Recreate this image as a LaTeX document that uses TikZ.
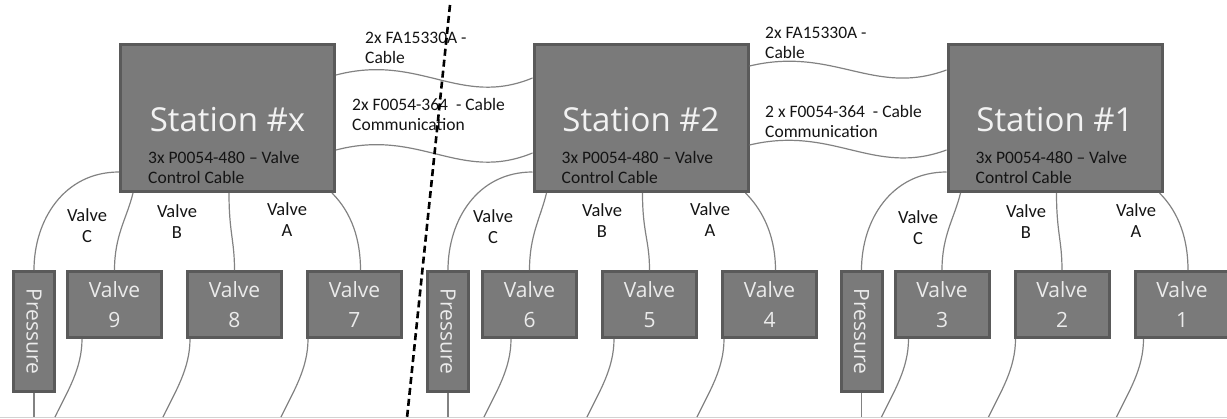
\documentclass[tikz,border=0pt]{standalone}
\usepackage{fontspec}
\setmainfont{Open Sans}
\newfontfamily\cablefont{Carlito}
\usetikzlibrary{positioning,calc}
\definecolor{boxgray}{HTML}{7A7A7A}
\definecolor{boxedge}{HTML}{5A5A5A}
\definecolor{wiregray}{HTML}{828282}
\definecolor{floorgray}{HTML}{D2D2D2}
\tikzset{
  station/.style={draw=boxedge,fill=boxgray,line width=3pt,minimum width=214pt,minimum height=147pt,inner sep=0pt},
  stationtitle/.style={text=white!95!black,inner sep=0pt,font=\fontsize{33}{36}\selectfont},
  valvebox/.style={draw=boxedge,fill=boxgray,line width=3pt,minimum width=94pt,minimum height=66pt,inner sep=0pt,align=center,text=white!92!black,font=\fontsize{21}{30}\selectfont},
  pressbox/.style={draw=boxedge,fill=boxgray,line width=3pt,minimum width=41pt,minimum height=120pt,inner sep=0pt,text=white!92!black,font=\fontsize{21}{24}\selectfont},
  lbl/.style={align=left,inner sep=0pt,text=black!92,font=\cablefont\fontsize{17.5}{20}\selectfont},
  vlbl/.style={align=center,inner sep=0pt,text=black!92,font=\cablefont\fontsize{18.5}{21}\selectfont},
  cable/.style={draw=wiregray,line width=1.2pt},
  cut/.style={draw=black,line width=2.6pt,dash pattern=on 7pt off 4pt},
}

\begin{document}
\begin{tikzpicture}[x=1pt,y=-1pt]
\useasboundingbox (0,0) rectangle (1227,418);

% floor line
\coordinate (base) at (0,417);
\coordinate (baseR) at (1227,417);
\draw[floorgray,line width=1pt] (base) -- (baseR);

% stations
\node[station] (sx) at (227.5,118) {};
\node[station] (s2) at (641,118) {};
\node[station] (s1) at (1055,118) {};
\foreach \s/\t in {sx/x, s2/2, s1/1}{
  \node[stationtitle] (\s title) at ([yshift=-1.5pt]\s.center) {Station \#\t};
  \node[lbl, anchor=west] (\s sub) at ([xshift=29pt,yshift=-49pt]\s.west) {3x P0054-480 – Valve\\Control Cable};
}

% pressure sensors and valves
\node[pressbox] (px) at (34,331.5) {\rotatebox{-90}{Pressure}};
\node[pressbox] (p2) at (448,331.5) {\rotatebox{-90}{Pressure}};
\node[pressbox] (p1) at (861.5,331.5) {\rotatebox{-90}{Pressure}};

\node[valvebox, right=10pt of px.north east, anchor=north west] (v9) {Valve\\9};
\node[valvebox, right=23pt of v9] (v8) {Valve\\8};
\node[valvebox, right=23pt of v8] (v7) {Valve\\7};
\node[valvebox, right=11pt of p2.north east, anchor=north west] (v6) {Valve\\6};
\node[valvebox, right=23pt of v6] (v5) {Valve\\5};
\node[valvebox, right=23pt of v5] (v4) {Valve\\4};
\node[valvebox, right=10pt of p1.north east, anchor=north west] (v3) {Valve\\3};
\node[valvebox, right=23pt of v3] (v2) {Valve\\2};
\node[valvebox, right=23pt of v2] (v1) {Valve\\1};

% valve cable labels
\node[vlbl] (lxc) at (87,226) {Valve\\C};
\node[vlbl] (lxb) at (177,222) {Valve\\B};
\node[vlbl] (lxa) at (287,220) {Valve\\A};
\node[vlbl] (l2c) at (493,227) {Valve\\C};
\node[vlbl] (l2b) at (602,221) {Valve\\B};
\node[vlbl] (l2a) at (710,220) {Valve\\A};
\node[vlbl] (l1c) at (918,228) {Valve\\C};
\node[vlbl] (l1b) at (1026,222) {Valve\\B};
\node[vlbl] (l1a) at (1136,221) {Valve\\A};

% station to station labels
\node[lbl, anchor=west] (fa left) at (365,47.5) {2x FA15330A -\\Cable};
\node[lbl, anchor=west] (com left) at (352,114) {2x F0054-364~ - Cable\\Communication};
\node[lbl, anchor=west] (fa right) at (765,42.5) {2x FA15330A -\\Cable};
\node[lbl, anchor=west] (com right) at (765,121) {2 x F0054-364~ - Cable\\Communication};

% station to station cables
\draw[cable] ([yshift=-32pt]sx.north east) .. controls +(84,-22) and +(-73,30) .. ([yshift=-35pt]s2.north west);
\draw[cable] ([yshift=-107pt]sx.north east) .. controls +(84,-22) and +(-73,30) .. ([yshift=-110pt]s2.north west);
\draw[cable] ([yshift=-23pt]s2.north east) .. controls +(84,-20) and +(-73,27) .. ([yshift=-27pt]s1.north west);
\draw[cable] ([yshift=-102pt]s2.north east) .. controls +(84,-20) and +(-73,27) .. ([yshift=-107pt]s1.north west);

% station to valve cables
\foreach \s/\p/\c/\b/\a in {sx/px/v9/v8/v7, s2/p2/v6/v5/v4, s1/p1/v3/v2/v1}{
  \draw[cable] ([yshift=-54pt]\s.west) .. controls +(-55,0) and +(0,-50) .. (\p.north);
  \draw[cable] ([xshift=14pt]\s.south west) .. controls +(-6,25) and +(0,-35) .. (\c.north);
  \draw[cable] ([xshift=110pt]\s.south west) .. controls +(0,40) and +(0,-30) .. (\b.north);
  \draw[cable] ([xshift=213pt]\s.south west) .. controls +(20,20) and +(0,-30) .. ([xshift=6pt]\a.north);
  \coordinate (\p foot) at (\p.south |- base);
  \draw[cable] (\p.south) -- (\p foot);
}

% cables down from the valves
\foreach \v/\d in {v9/16, v8/4, v7/2, v6/30, v5/13, v4/3, v3/15, v2/2, v1/10}{
  \coordinate (\v top) at ([xshift=\d pt]\v.south west);
  \coordinate (\v foot) at ($(\v top |- base)+(-27,0)$);
  \draw[cable] (\v top) .. controls +(0,30) and +(12,-25) .. (\v foot);
}

% cut line
\coordinate (cut top) at (450,5);
\coordinate (cut bot) at (407,418);
\draw[cut] (cut top) -- (cut bot);
\end{tikzpicture}
\end{document}
